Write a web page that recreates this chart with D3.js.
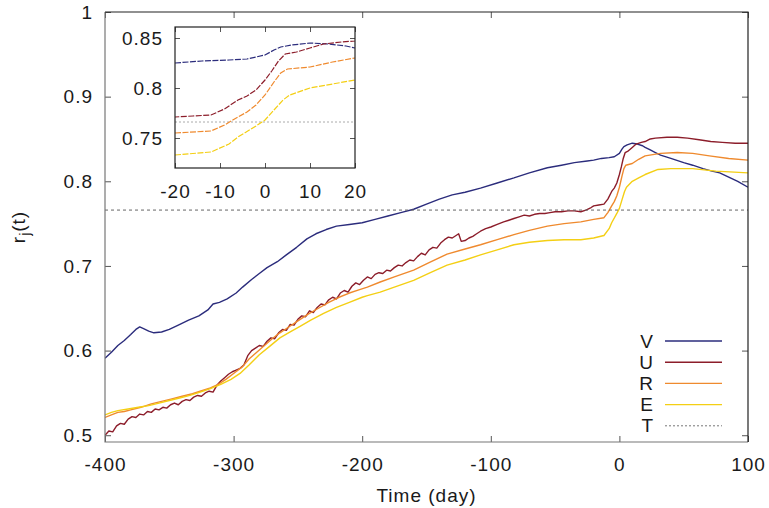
<!DOCTYPE html>
<html>
<head>
<meta charset="utf-8">
<script src="https://cdn.jsdelivr.net/npm/d3@7"></script>
<style>
  body { margin: 0; background: #fff; }
  svg text { font-family: 'Liberation Sans', Arial, sans-serif; font-size: 19px; fill: #1a1a1a; letter-spacing: 1px; }
</style>
</head>
<body>
<div id="chart"></div>
<script>
// values: [day, r_j(t)]
const xTicks = [-400, -300, -200, -100, 0, 100];
const yTicks = [0.5, 0.6, 0.7, 0.8, 0.9, 1];
const insetXTicks = [-20, -10, 0, 10, 20];
const insetYTicks = [0.75, 0.8, 0.85];
const legendLabels = ['V', 'U', 'R', 'E', 'T'];
const thresholdValue = 0.766;

const seriesV = [
  [-400, 0.591], [-395, 0.598], [-390, 0.606], [-385, 0.612], [-380, 0.619], [-376, 0.625],
  [-373, 0.628], [-370, 0.626], [-366, 0.623], [-362, 0.621], [-356, 0.622], [-350, 0.625],
  [-343, 0.630], [-335, 0.636], [-327, 0.641], [-320, 0.648], [-316, 0.655], [-311, 0.657],
  [-305, 0.661], [-298, 0.668], [-293, 0.675], [-286, 0.684], [-280, 0.691], [-274, 0.698],
  [-266, 0.705], [-259, 0.713], [-251, 0.722], [-243, 0.732], [-236, 0.738], [-228, 0.743],
  [-220, 0.747], [-210, 0.749], [-200, 0.751], [-190, 0.755], [-180, 0.759], [-170, 0.763],
  [-160, 0.767], [-150, 0.773], [-140, 0.779], [-130, 0.784], [-120, 0.787], [-108, 0.792],
  [-95, 0.798], [-82, 0.804], [-70, 0.810], [-56, 0.816], [-45, 0.819], [-35, 0.822],
  [-25, 0.824], [-20, 0.825], [-14, 0.827], [-8, 0.828], [-4, 0.829], [0, 0.833],
  [2, 0.838], [3.5, 0.841], [6, 0.843], [10, 0.845], [14, 0.844], [18, 0.842], [20, 0.840],
  [24, 0.837], [28, 0.834], [32, 0.831], [40, 0.827], [50, 0.822], [57, 0.819], [65, 0.815],
  [72, 0.812], [78, 0.810], [85, 0.805], [92, 0.800], [100, 0.793],
];

const seriesU = [
  [-400, 0.500], [-397, 0.505], [-394, 0.504], [-391, 0.511], [-388, 0.514], [-385, 0.513],
  [-382, 0.519], [-379, 0.522], [-376, 0.521], [-373, 0.525], [-370, 0.524], [-367, 0.528],
  [-364, 0.527], [-361, 0.531], [-358, 0.530], [-355, 0.533], [-352, 0.532], [-349, 0.536],
  [-346, 0.538], [-343, 0.536], [-340, 0.540], [-337, 0.542], [-334, 0.541], [-331, 0.545],
  [-328, 0.547], [-325, 0.546], [-322, 0.550], [-319, 0.552], [-316, 0.551], [-313, 0.559],
  [-310, 0.564], [-307, 0.568], [-304, 0.572], [-301, 0.575], [-298, 0.577], [-295, 0.579],
  [-292, 0.583], [-289, 0.594], [-286, 0.600], [-283, 0.603], [-280, 0.606], [-277, 0.605],
  [-274, 0.611], [-271, 0.615], [-268, 0.614], [-265, 0.621], [-262, 0.625], [-259, 0.624],
  [-256, 0.631], [-253, 0.630], [-250, 0.637], [-247, 0.641], [-244, 0.640], [-241, 0.647],
  [-238, 0.645], [-235, 0.651], [-232, 0.655], [-229, 0.654], [-226, 0.660], [-223, 0.663],
  [-220, 0.661], [-217, 0.668], [-214, 0.671], [-211, 0.669], [-208, 0.676], [-205, 0.680],
  [-202, 0.678], [-199, 0.683], [-196, 0.687], [-193, 0.685], [-190, 0.690], [-187, 0.692],
  [-184, 0.691], [-181, 0.695], [-178, 0.694], [-175, 0.698], [-172, 0.701], [-169, 0.700],
  [-166, 0.704], [-163, 0.707], [-160, 0.706], [-157, 0.711], [-154, 0.715], [-151, 0.713],
  [-148, 0.719], [-145, 0.722], [-142, 0.721], [-139, 0.727], [-136, 0.731], [-133, 0.734],
  [-130, 0.733], [-127, 0.736], [-125, 0.738], [-123, 0.729], [-120, 0.730], [-117, 0.733],
  [-114, 0.735], [-111, 0.738], [-108, 0.741], [-104, 0.744], [-100, 0.746], [-95, 0.749],
  [-90, 0.752], [-86, 0.754], [-82, 0.756], [-78, 0.758], [-74, 0.760], [-70, 0.759],
  [-66, 0.761], [-62, 0.762], [-58, 0.762], [-54, 0.763], [-50, 0.764], [-45, 0.764],
  [-40, 0.765], [-35, 0.765], [-30, 0.764], [-26, 0.766], [-22, 0.769], [-20, 0.771],
  [-16, 0.772], [-12, 0.773], [-9, 0.779], [-6, 0.788], [-4, 0.792], [-2, 0.798],
  [0, 0.808], [1.5, 0.817], [3, 0.827], [4.5, 0.834], [7, 0.836], [10, 0.840],
  [13, 0.844], [17, 0.846], [20, 0.847], [24, 0.850], [28, 0.851], [37, 0.852],
  [45, 0.852], [53, 0.851], [62, 0.849], [71, 0.847], [80, 0.846], [90, 0.845], [100, 0.845],
];

const seriesR = [
  [-400, 0.521], [-395, 0.524], [-390, 0.527], [-385, 0.528], [-380, 0.530], [-372, 0.533],
  [-364, 0.537], [-356, 0.540], [-348, 0.543], [-340, 0.546], [-332, 0.549], [-326, 0.552],
  [-318, 0.556], [-312, 0.560], [-306, 0.566], [-300, 0.573], [-293, 0.581], [-288, 0.590],
  [-282, 0.598], [-276, 0.606], [-270, 0.614], [-264, 0.621], [-258, 0.627], [-250, 0.635],
  [-242, 0.643], [-234, 0.650], [-226, 0.657], [-218, 0.663], [-210, 0.668], [-202, 0.672],
  [-196, 0.675], [-186, 0.681], [-175, 0.687], [-160, 0.695], [-148, 0.704], [-134, 0.714],
  [-120, 0.720], [-108, 0.725], [-95, 0.731], [-82, 0.737], [-70, 0.742], [-56, 0.747],
  [-43, 0.750], [-30, 0.752], [-20, 0.755], [-12, 0.757], [-9, 0.763], [-6, 0.771],
  [-4, 0.776], [-2, 0.783], [0, 0.793], [2, 0.806], [3.5, 0.815], [5, 0.819], [10, 0.821],
  [15, 0.826], [20, 0.830], [32, 0.833], [45, 0.834], [57, 0.833], [70, 0.830], [85, 0.827],
  [100, 0.825],
];

const seriesE = [
  [-400, 0.524], [-395, 0.527], [-390, 0.529], [-382, 0.531], [-374, 0.533], [-366, 0.535],
  [-358, 0.538], [-350, 0.541], [-342, 0.544], [-334, 0.547], [-326, 0.551], [-318, 0.555],
  [-310, 0.560], [-302, 0.566], [-295, 0.573], [-288, 0.583], [-280, 0.595], [-272, 0.605],
  [-264, 0.615], [-256, 0.622], [-248, 0.629], [-240, 0.636], [-230, 0.644], [-220, 0.651],
  [-210, 0.657], [-200, 0.663], [-196, 0.665], [-186, 0.669], [-175, 0.675], [-160, 0.683],
  [-147, 0.692], [-134, 0.701], [-120, 0.707], [-108, 0.713], [-95, 0.719], [-82, 0.725],
  [-70, 0.728], [-56, 0.730], [-43, 0.731], [-30, 0.731], [-20, 0.733], [-12, 0.736],
  [-8, 0.744], [-6, 0.751], [-2, 0.762], [0, 0.768], [2, 0.778], [4, 0.788], [5.5, 0.793],
  [10, 0.800], [15, 0.804], [20, 0.808], [30, 0.814], [40, 0.815], [57, 0.815], [75, 0.812],
  [100, 0.810],
];

const series = [seriesV, seriesU, seriesR, seriesE];
const colors = ['#2b2c7c', '#8c1d2a', '#ef8a2e', '#f4cf14'];

const W = 769;
const H = 508;
const margin = { top: 12, right: 21, bottom: 66, left: 105 };
const width = W - margin.left - margin.right;
const height = H - margin.top - margin.bottom;

const svg = d3.select('#chart').append('svg')
  .attr('width', W)
  .attr('height', H);

const g = svg.append('g')
  .attr('transform', `translate(${margin.left},${margin.top})`);

const x = d3.scaleLinear().domain([-400, 100]).range([0, width]);
const y = d3.scaleLinear().domain([0.492, 1]).range([height, 0]);

// plain hyphen for negatives, like the original
const intFmt = (d) => String(d);

// ticks on all four sides, pointing inwards (gnuplot style)
const drawAxes = (grp, sx, sy, w, h, xt, yt, fx, fy, tick, padX, padY) => {
  const strip = (a) => a.select('.domain').remove();
  grp.append('g').attr('transform', `translate(0,${h})`)
    .call(d3.axisBottom(sx).tickValues(xt).tickSize(-tick).tickPadding(padX).tickFormat(fx))
    .call(strip);
  grp.append('g')
    .call(d3.axisTop(sx).tickValues(xt).tickSize(-tick).tickFormat(''))
    .call(strip);
  grp.append('g')
    .call(d3.axisLeft(sy).tickValues(yt).tickSize(-tick).tickPadding(padY).tickFormat(fy))
    .call(strip);
  grp.append('g').attr('transform', `translate(${w},0)`)
    .call(d3.axisRight(sy).tickValues(yt).tickSize(-tick).tickFormat(''))
    .call(strip);
  grp.selectAll('.tick line').attr('stroke', '#555');
  grp.selectAll('.tick text').attr('font-size', null).attr('font-family', null);
};

const clip = (id, w, h) => svg.append('clipPath').attr('id', id)
  .append('rect').attr('width', w).attr('height', h);

clip('main-clip', width, height);

// main lines
const line = d3.line().x((d) => x(d[0])).y((d) => y(d[1]));
const plot = g.append('g').attr('clip-path', 'url(#main-clip)');
series.forEach((s, i) => {
  plot.append('path')
    .datum(s)
    .attr('fill', 'none')
    .attr('stroke', colors[i])
    .attr('stroke-width', 1.4)
    .attr('stroke-linejoin', 'round')
    .attr('d', line);
});
plot.append('line')
  .attr('x1', 0).attr('x2', width)
  .attr('y1', y(thresholdValue)).attr('y2', y(thresholdValue))
  .attr('stroke', '#666')
  .attr('stroke-width', 1)
  .attr('stroke-dasharray', '3,3');

drawAxes(g, x, y, width, height, xTicks, yTicks,
  intFmt, (d) => (d === 1 ? '1' : d.toFixed(1)), 6, 16, 12);

// frame
g.append('path').attr('fill', 'none').attr('stroke', '#777').attr('stroke-width', 1.2)
  .attr('d', `M0,0V${height}H${width}`);
g.append('path').attr('fill', 'none').attr('stroke', '#222').attr('stroke-width', 1.2)
  .attr('d', `M0,0H${width}V${height}`);

// axis titles
svg.append('text')
  .attr('x', margin.left + width / 2)
  .attr('y', 502)
  .style('text-anchor', 'middle')
  .text('Time (day)');

const yTitle = svg.append('text')
  .attr('transform', `translate(25,${margin.top + height / 2}) rotate(-90)`)
  .style('text-anchor', 'middle');
yTitle.append('tspan').text('r');
yTitle.append('tspan').attr('dy', 5).style('font-size', '14px').text('j');
yTitle.append('tspan').attr('dy', -5).text('(t)');

// legend
const legend = g.append('g').attr('transform', `translate(${width - 94},329)`);
legendLabels.forEach((lab, i) => {
  const row = legend.append('g').attr('transform', `translate(0,${i * 21.2})`);
  row.append('text').attr('x', 0).attr('dy', '0.35em').style('text-anchor', 'end').text(lab);
  row.append('line')
    .attr('x1', 11).attr('x2', 68)
    .attr('stroke', i < 4 ? colors[i] : '#777')
    .attr('stroke-width', i < 4 ? 1.4 : 1)
    .attr('stroke-dasharray', i < 4 ? null : '2,2');
});

// inset
const inset = { left: 70, top: 15, width: 180, height: 141 };
const ig = g.append('g').attr('transform', `translate(${inset.left},${inset.top})`);
ig.append('rect').attr('width', inset.width).attr('height', inset.height).attr('fill', '#fff');

const ix = d3.scaleLinear().domain([-20, 20]).range([0, inset.width]);
const iy = d3.scaleLinear().domain([0.72, 0.861]).range([inset.height, 0]);
clip('inset-clip', inset.width, inset.height);

const iline = d3.line().x((d) => ix(d[0])).y((d) => iy(d[1]));
const iplot = ig.append('g').attr('clip-path', 'url(#inset-clip)');
iplot.append('line')
  .attr('x1', 0).attr('x2', inset.width)
  .attr('y1', iy(thresholdValue)).attr('y2', iy(thresholdValue))
  .attr('stroke', '#aaa')
  .attr('stroke-dasharray', '2,2');
series.forEach((s, i) => {
  iplot.append('path')
    .datum(s.filter((d) => d[0] >= -24 && d[0] <= 24))
    .attr('fill', 'none')
    .attr('stroke', colors[i])
    .attr('stroke-width', 1.2)
    .attr('stroke-dasharray', '6,1.5')
    .attr('d', iline);
});

drawAxes(ig, ix, iy, inset.width, inset.height, insetXTicks, insetYTicks,
  intFmt, (d) => String(d), 5, 17, 12);
ig.append('rect').attr('width', inset.width).attr('height', inset.height)
  .attr('fill', 'none').attr('stroke', '#222').attr('stroke-width', 1.2);
</script>
</body>
</html>
